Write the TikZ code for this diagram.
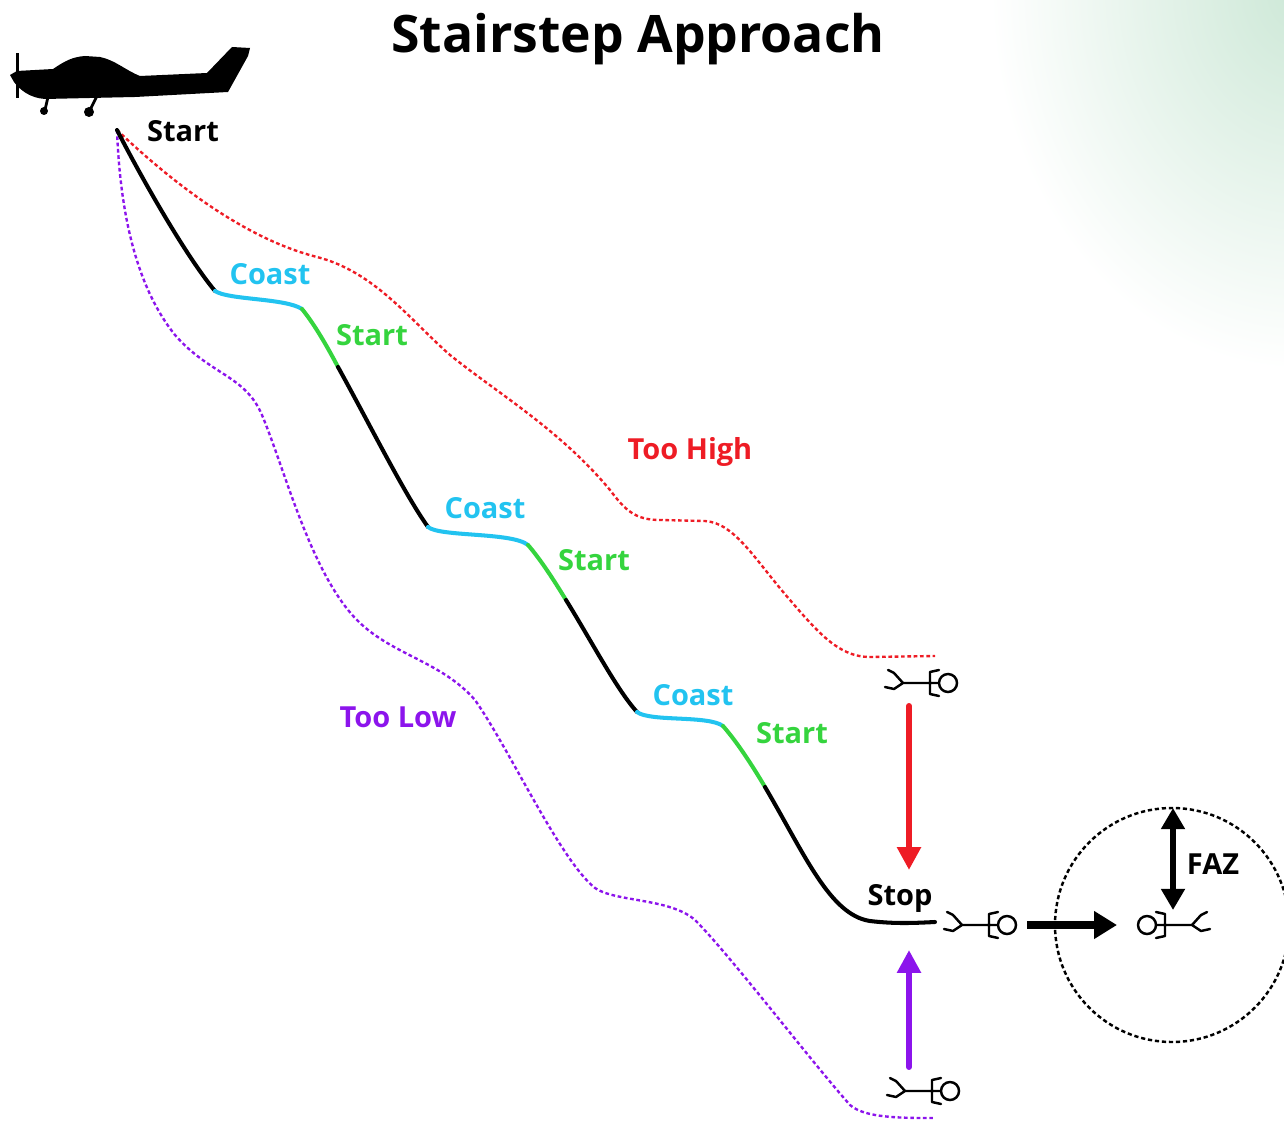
\documentclass[tikz,border=0pt]{standalone}
\usepackage{fontspec}
\setmainfont{Open Sans}
\usepackage{tikz}
\usetikzlibrary{
  arrows.meta,
  positioning,
  calc
}
\definecolor{sdCoast}{HTML}{22C3F0}
\definecolor{sdStart}{HTML}{35D43E}
\definecolor{sdHigh}{HTML}{EE1C25}
\definecolor{sdLow}{HTML}{8C14EC}
\definecolor{sdMint}{HTML}{CDE8D7}
\tikzset{
  glide/.style={line width=2.3pt, line cap=round},
  fall/.style={glide, black},
  coast/.style={glide, sdCoast},
  burn/.style={glide, sdStart},
  offpath/.style={line width=1.35pt, dash pattern=on 2.1pt off 1.5pt},
  toohigh/.style={offpath, sdHigh},
  toolow/.style={offpath, sdLow},
  lbl/.style={font=\fontsize{16.5}{19}\selectfont\bfseries},
  correct/.style={line width=3.4pt, line cap=round, -{Triangle[length=13pt, width=13pt]}},
  faz/.style={dash pattern=on 2.4pt off 1.6pt, line width=1.4pt},
  diver/.pic={
    \draw[line width=1.4pt, line join=round, line cap=round]
      (-15,-13) -- (-9,-10) -- (0,0) -- (-9,6) -- (-18,4)
      (0,0) -- (36,0)
      (36,-13) -- (27,-11) -- (27,11) -- (36,13);
    \draw[line width=1.4pt] (45,0) circle [radius=9];
  }
}

\begin{document}
\begin{tikzpicture}[x=0.02cm, y=-0.02cm]
  \useasboundingbox (0,0) rectangle (1284,1121);
  % soft mint corner
  \begin{scope}
    \clip (0,0) rectangle (1284,1121);
    \shade[inner color=sdMint, outer color=white] (1300,-10) ellipse [x radius=310, y radius=380];
  \end{scope}

  \node[font=\fontsize{29.4}{33}\selectfont\bfseries] (title) at (638,39) {Stairstep Approach};

  % aircraft
  \fill (10,75) -- (17,71) -- (53,69) .. controls (65,61) and (72,57) .. (85,56) -- (100,57)
    .. controls (115,60) and (125,70) .. (140,76) -- (207,73) -- (232,47) -- (250,48) -- (248,56)
    -- (228,92) -- (135,97) -- (45,99) .. controls (30,98) and (20,90) .. (14,82) -- cycle;
  \fill (15.5,53) rectangle (18.5,98);
  \draw[line width=1.6pt] (48,97) -- (45,110) (97,96) -- (90,110);
  \fill (44,111) circle [radius=4] (89,112) circle [radius=5];

  % breakpoints of the stepped descent
  \coordinate (p0) at (117,130);
  \coordinate (p1) at (215,291);
  \coordinate (p2) at (302,309);
  \coordinate (p3) at (338,367);
  \coordinate (p4) at (428,527);
  \coordinate (p5) at (528,545);
  \coordinate (p6) at (566,600);
  \coordinate (p7) at (637,712);
  \coordinate (p8) at (723,726);
  \coordinate (p9) at (765,787);
  \coordinate (p10) at (935,922);

  % too high / too low envelopes
  \draw[toohigh] (p0) .. controls (180,190) and (250,240) .. (317,257)
    .. controls (375,272) and (410,320) .. (450,355)
    .. controls (500,395) and (560,430) .. (610,490)
    .. controls (625,510) and (635,520) .. (660,520) -- (705,521)
    .. controls (735,523) and (755,560) .. (790,600)
    .. controls (820,635) and (840,657) .. (870,657) -- (935,656);
  \draw[toolow] (p0) .. controls (120,210) and (135,285) .. (175,335)
    .. controls (210,375) and (245,375) .. (262,415)
    .. controls (285,470) and (310,570) .. (355,618)
    .. controls (390,655) and (440,660) .. (475,700)
    .. controls (510,750) and (560,860) .. (595,888)
    .. controls (615,902) and (670,898) .. (695,920)
    .. controls (730,955) and (810,1060) .. (850,1105)
    .. controls (865,1118) and (900,1118) .. (935,1118);

  % stepped descent
  \draw[fall] (p0) .. controls (140,175) and (185,255) .. (p1);
  \draw[coast] (p1) .. controls (228,300) and (285,298) .. (p2);
  \draw[burn] (p2) .. controls (315,325) and (328,348) .. (p3);
  \draw[fall] (p3) .. controls (370,425) and (405,495) .. (p4);
  \draw[coast] (p4) .. controls (440,537) and (512,532) .. (p5);
  \draw[burn] (p5) .. controls (541,560) and (555,582) .. (p6);
  \draw[fall] (p6) .. controls (592,642) and (617,690) .. (p7);
  \draw[coast] (p7) .. controls (650,722) and (708,715) .. (p8);
  \draw[burn] (p8) .. controls (737,742) and (752,765) .. (p9);
  \draw[fall] (p9) .. controls (805,855) and (830,915) .. (870,921)
    .. controls (895,924) and (915,923) .. (p10);

  \node[lbl] (s0) at (183,131) {Start};
  \node[lbl, sdCoast] (c1) at (270,274) {Coast};
  \node[lbl, sdStart] (s1) at (372,335) {Start};
  \node[lbl, sdCoast] (c2) at (485,508) {Coast};
  \node[lbl, sdStart] (s2) at (594,560) {Start};
  \node[lbl, sdCoast] (c3) at (693,695) {Coast};
  \node[lbl, sdStart] (s3) at (792,733) {Start};
  \node[lbl, sdHigh] (high) at (690,452) {Too High};
  \node[lbl, sdLow] (low) at (398,717) {Too Low};
  \node[lbl] (stop) at (900,898) {Stop};

  % jumpers
  \pic at (903,683) {diver};
  \pic at (962,925) {diver};
  \pic at (905,1091) {diver};
  \pic[xscale=-1] at (1192,925) {diver};

  \coordinate (hiTop) at (909,706);
  \coordinate (hiEnd) at (909,870);
  \coordinate (loBot) at (909,1067);
  \coordinate (loEnd) at (909,950);
  \coordinate (outA) at (1027,925);
  \coordinate (outB) at (1117,925);
  \coordinate (fazTop) at (1173,808);
  \coordinate (fazBot) at (1173,910);

  \draw[correct, sdHigh] (hiTop) -- (hiEnd);
  \draw[correct, sdLow] (loBot) -- (loEnd);
  \draw[line width=4.5pt, -{Triangle[length=13pt, width=15pt]}] (outA) -- (outB);
  \draw[line width=3.2pt, {Triangle[length=12pt, width=13pt]}-{Triangle[length=12pt, width=13pt]}] (fazTop) -- (fazBot);
  \node[lbl] (fazlbl) at (1213,864) {FAZ};
  \draw[faz] (1172,925) circle [radius=117];
\end{tikzpicture}
\end{document}
